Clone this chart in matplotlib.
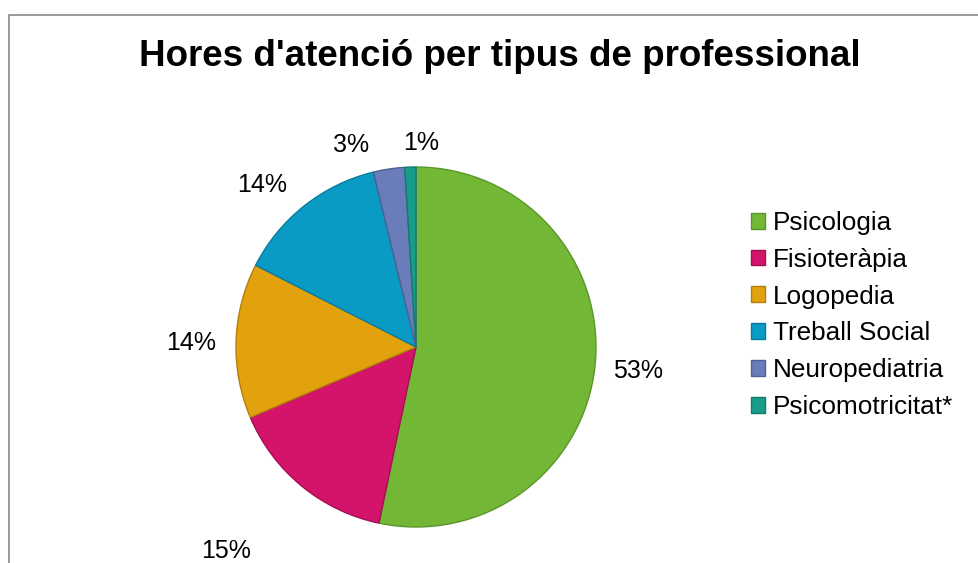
import numpy as np
import matplotlib

matplotlib.use("Agg")
import matplotlib.pyplot as plt
from matplotlib.patches import Rectangle

plt.rcParams["font.family"] = ["Liberation Sans", "DejaVu Sans"]

# data (share of attention hours, %)
categories = ["Psicologia", "Fisioteràpia", "Logopedia", "Treball Social",
              "Neuropediatria", "Psicomotricitat*"]
shares = [53.3, 15.3, 13.9, 13.7, 2.8, 1.0]
title = "Hores d'atenció per tipus de professional"

fills = ["#72B836", "#D4136A", "#E2A20E", "#0A9BC5", "#6A7DBA", "#1A9C8B"]
edges = ["#5A962A", "#A50F52", "#B3800B", "#087C9E", "#505F96", "#13796C"]

# label placement tweaks: (angle shift deg, distance / radius)
label_adj = [(-2, 1.244), (-2.6, 1.575), (2.8, 1.25), (6.5, 1.214),
             (9.8, 1.142), (-3.3, 1.094)]

W, H = 979, 563
fig = plt.figure(figsize=(W / 100, H / 100), dpi=100)
ax = fig.add_axes([0, 0, 1, 1])

cx, cy, R = 416, H - 347, 180
wedges, _ = ax.pie(shares, colors=fills, startangle=90, counterclock=False,
                   center=(cx, cy), radius=R,
                   wedgeprops=dict(linewidth=1.0))
for w, ec in zip(wedges, edges):
    w.set_edgecolor(ec)

for w, v, (dth, f) in zip(wedges, shares, label_adj):
    th = np.deg2rad((w.theta1 + w.theta2) / 2 + dth)
    ax.text(cx + f * R * np.cos(th), cy + f * R * np.sin(th), f"{v:.0f}%",
            ha="center", va="baseline", fontsize=18)

ax.text(500, H - 66, title, ha="center", va="baseline",
        fontsize=26.5, fontweight="bold")

ax.legend(wedges, categories, loc="upper left", bbox_to_anchor=(751, H - 211),
          bbox_transform=ax.transData, frameon=False, fontsize=18.8,
          borderpad=0, borderaxespad=0, handlelength=0.55, handleheight=0.55,
          handletextpad=0.28, labelspacing=0.49)

# chart frame
ax.add_patch(Rectangle((9.5, -20), 2000, H - 14.5 + 20, fill=False,
                       edgecolor="#898989", linewidth=1.2, clip_on=False))

ax.set_xlim(0, W)
ax.set_ylim(0, H)
ax.set_aspect("equal")
ax.axis("off")

fig.savefig("out.png", dpi=100)
